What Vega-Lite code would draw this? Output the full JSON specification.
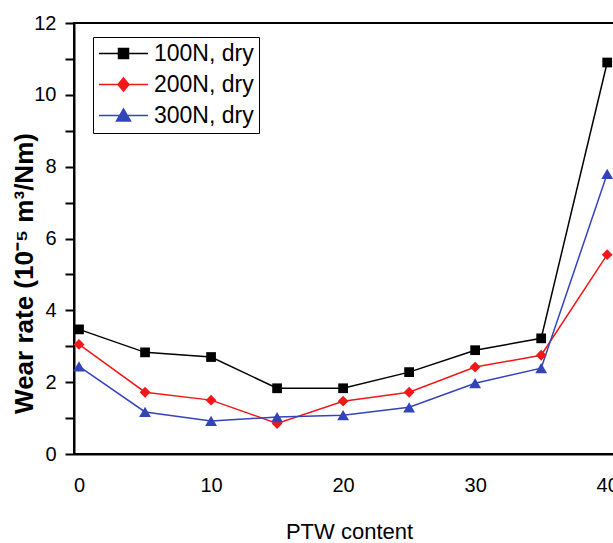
{
  "$schema": "https://vega.github.io/schema/vega-lite/v6.json",
  "autosize": "none",
  "padding": {"left": 74, "top": 23, "right": 0, "bottom": 89},
  "width": 553,
  "height": 431,
  "background": "white",
  "config": {
    "font": "Liberation Sans",
    "view": {"stroke": "black", "strokeWidth": 2},
    "axis": {"grid": false, "domainColor": "black", "domainWidth": 2, "tickColor": "black", "labelColor": "black", "titleColor": "black"}
  },
  "data": {
    "values": [
      {"ptw": 0, "rate": 3.47, "series": "100N, dry"},
      {"ptw": 5, "rate": 2.83, "series": "100N, dry"},
      {"ptw": 10, "rate": 2.7, "series": "100N, dry"},
      {"ptw": 15, "rate": 1.83, "series": "100N, dry"},
      {"ptw": 20, "rate": 1.83, "series": "100N, dry"},
      {"ptw": 25, "rate": 2.28, "series": "100N, dry"},
      {"ptw": 30, "rate": 2.89, "series": "100N, dry"},
      {"ptw": 35, "rate": 3.22, "series": "100N, dry"},
      {"ptw": 40, "rate": 10.9, "series": "100N, dry"},
      {"ptw": 0, "rate": 3.05, "series": "200N, dry"},
      {"ptw": 5, "rate": 1.72, "series": "200N, dry"},
      {"ptw": 10, "rate": 1.5, "series": "200N, dry"},
      {"ptw": 15, "rate": 0.85, "series": "200N, dry"},
      {"ptw": 20, "rate": 1.47, "series": "200N, dry"},
      {"ptw": 25, "rate": 1.72, "series": "200N, dry"},
      {"ptw": 30, "rate": 2.42, "series": "200N, dry"},
      {"ptw": 35, "rate": 2.75, "series": "200N, dry"},
      {"ptw": 40, "rate": 5.55, "series": "200N, dry"},
      {"ptw": 0, "rate": 2.44, "series": "300N, dry"},
      {"ptw": 5, "rate": 1.17, "series": "300N, dry"},
      {"ptw": 10, "rate": 0.92, "series": "300N, dry"},
      {"ptw": 15, "rate": 1.03, "series": "300N, dry"},
      {"ptw": 20, "rate": 1.08, "series": "300N, dry"},
      {"ptw": 25, "rate": 1.3, "series": "300N, dry"},
      {"ptw": 30, "rate": 1.97, "series": "300N, dry"},
      {"ptw": 35, "rate": 2.39, "series": "300N, dry"},
      {"ptw": 40, "rate": 7.8, "series": "300N, dry"}
    ]
  },
  "encoding": {
    "x": {
      "field": "ptw", "type": "quantitative",
      "scale": {"domain": [-0.38, 41.5], "nice": false, "zero": false},
      "axis": {
        "values": [0, 10, 20, 30, 40], "ticks": false, "labelFontSize": 20, "labelPadding": 21,
        "labelFlush": false, "title": "PTW content", "titleFontSize": 22, "titleFontWeight": "normal",
        "titleX": 275, "titleY": 84, "titleAlign": "center", "titleBaseline": "alphabetic"
      }
    },
    "y": {
      "field": "rate", "type": "quantitative",
      "scale": {"domain": [0, 12], "nice": false},
      "axis": {
        "values": [0, 1, 2, 3, 4, 5, 6, 7, 8, 9, 10, 11, 12],
        "labelExpr": "datum.value % 2 == 0 ? datum.label : ''",
        "tickSize": 9,
        "tickWidth": 2,
        "labelFontSize": 20, "labelPadding": 9, "labelFlush": false,
        "title": "Wear rate  (10⁻⁵ m³/Nm)", "titleFontSize": 26, "titleFontWeight": "bold",
        "titleX": -42, "titleY": 250, "titleAlign": "center", "titleBaseline": "alphabetic", "titleAngle": -90,
        "encode": {
          "ticks": {"update": {"x2": {"signal": "datum.value % 2 == 0 ? 12 : 7"}}}
        }
      }
    }
  },
  "resolve": {
    "scale": {"color": "independent", "shape": "independent", "stroke": "independent"},
    "legend": {"color": "independent", "shape": "independent", "stroke": "independent"}
  },
  "layer": [
    {
      "mark": {"type": "line", "strokeWidth": 1.5},
      "encoding": {
        "color": {"field": "series", "type": "nominal", "legend": null,
          "scale": {"domain": ["100N, dry", "200N, dry", "300N, dry"], "range": ["#000000", "#f01818", "#3344bb"]}}
      }
    },
    {
      "mark": {"type": "point", "filled": true, "opacity": 1},
      "encoding": {
        "color": {"field": "series", "type": "nominal", "legend": null,
          "scale": {"domain": ["100N, dry", "200N, dry", "300N, dry"], "range": ["#000000", "#f01818", "#3344bb"]}},
        "shape": {"field": "series", "type": "nominal", "scale": {"domain": ["100N, dry", "200N, dry", "300N, dry"], "range": ["square", "diamond", "triangle-up"]}, "legend": null},
        "size": {"field": "series", "type": "nominal", "scale": {"domain": ["100N, dry", "200N, dry", "300N, dry"], "range": [95, 140, 170]}, "legend": null}
      }
    },
    {
      "transform": [{"filter": "false"}],
      "mark": {"type": "point", "filled": true, "opacity": 1, "size": 100, "strokeWidth": 1.5},
      "encoding": {
        "color": {"field": "series", "type": "nominal",
          "scale": {"domain": ["100N, dry", "200N, dry", "300N, dry"], "range": ["#000000", "#f01818", "#3344bb"]},
          "legend": {
            "title": null, "orient": "none", "legendX": 19, "legendY": 14,
            "padding": 5, "strokeColor": "black", "fillColor": "white",
            "symbolSize": 100, "symbolOffset": 14, "labelOffset": 19, "rowPadding": 7,
            "labelFontSize": 23, "labelColor": "black", "symbolOpacity": 1, "symbolStrokeWidth": 1.5
          }
        },
        "stroke": {"field": "series", "type": "nominal",
          "scale": {"domain": ["100N, dry", "200N, dry", "300N, dry"], "range": ["#000000", "#f01818", "#3344bb"]}},
        "shape": {"field": "series", "type": "nominal",
          "scale": {"domain": ["100N, dry", "200N, dry", "300N, dry"], "range": [
            "M-4.9,0H4.9M-1,-1H1V1H-1Z",
            "M-4.9,0H4.9M0,-1.3L1.1,0L0,1.3L-1.1,0Z",
            "M-4.9,0H4.9M0,-1.3L1.4,1.1H-1.4Z"
          ]}}
      }
    }
  ]
}
